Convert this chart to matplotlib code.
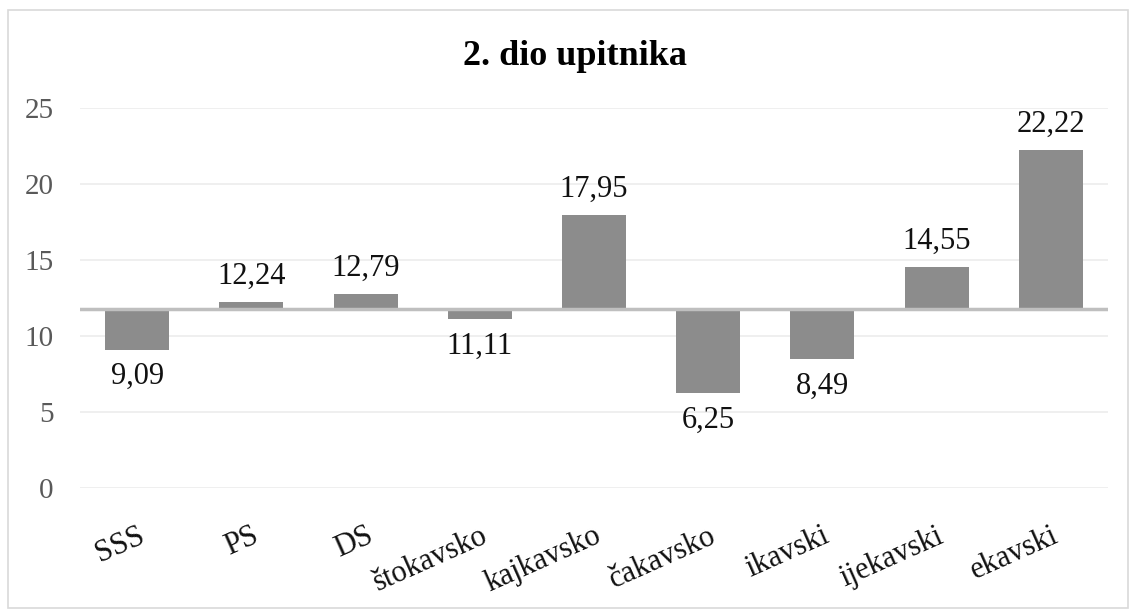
import numpy as np
import matplotlib.pyplot as plt
from matplotlib.patches import Rectangle

# data
categories = ["SSS", "PS", "DS", "štokavsko", "kajkavsko", "čakavsko",
              "ikavski", "ijekavski", "ekavski"]
values = [9.09, 12.24, 12.79, 11.11, 17.95, 6.25, 8.49, 14.55, 22.22]
labels = ["9,09", "12,24", "12,79", "11,11", "17,95", "6,25", "8,49", "14,55", "22,22"]
baseline = 11.75  # where the category axis crosses

plt.rcParams['font.family'] = ['Liberation Serif', 'DejaVu Serif']

fig = plt.figure(figsize=(11.31, 6.10), dpi=100)
fig.patches.append(Rectangle((0.007, 0.003), 0.99, 0.98, transform=fig.transFigure,
                             fill=False, edgecolor='#d9d9d9', linewidth=1.2))
ax = fig.add_axes([0.0707, 0.2, 0.909, 0.623])

x = np.arange(len(categories))
heights = [v - baseline for v in values]
ax.bar(x, heights, bottom=baseline, width=0.56, color='#8c8c8c', zorder=3)
ax.axhline(baseline, color='#bfbfbf', linewidth=2.5, zorder=4)

for xi, v, lab in zip(x, values, labels):
    if v >= baseline:
        ax.annotate(lab, (xi, v), xytext=(0, 13), textcoords='offset points',
                    ha='center', va='baseline', fontsize=22, color='#111111')
    else:
        ax.annotate(lab, (xi, v), xytext=(0, -9), textcoords='offset points',
                    ha='center', va='top', fontsize=22, color='#111111')

ax.set_xlim(-0.5, len(categories) - 0.5)
ax.set_ylim(0, 25)
ax.set_yticks([0, 5, 10, 15, 20, 25])
ax.grid(axis='y', color='#ececec', linewidth=1.2, zorder=0)
ax.set_axisbelow(True)
for s in ax.spines.values():
    s.set_visible(False)
ax.tick_params(axis='y', length=0, labelsize=21, labelcolor='#595959', pad=19)
ax.set_xticks(x)
ax.set_xticklabels(categories, rotation=24, ha='right', rotation_mode='anchor',
                   fontsize=22, color='#111111')
ax.tick_params(axis='x', length=0, pad=24)

fig.text(0.508, 0.893, "2. dio upitnika", fontsize=26, fontweight='bold',
         ha='center', va='baseline')

fig.savefig("out.png", dpi=100)
